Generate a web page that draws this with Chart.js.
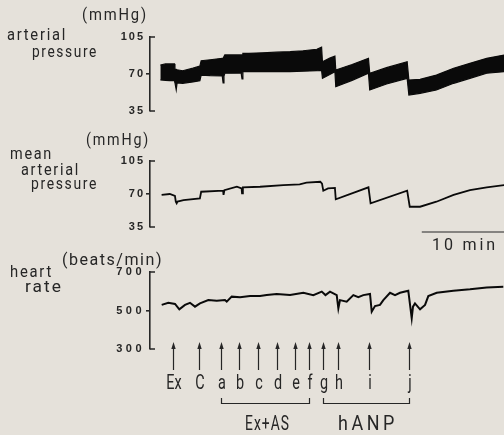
<!DOCTYPE html>
<html><head><meta charset="utf-8">
<script src="https://cdn.jsdelivr.net/npm/chart.js@4"></script>
<style>
html,body{margin:0;padding:0;background:#e5e1da;}
#wrap{position:relative;width:504px;height:435px;overflow:hidden;background:#e5e1da;}
canvas{position:absolute;left:0;top:0;}
</style></head><body>
<div id="wrap">
<canvas id="c1" width="504" height="435"></canvas>
<canvas id="c2" width="504" height="435"></canvas>
<canvas id="c3" width="504" height="435"></canvas>
</div>
<script>
// ---- data (time in minutes) ----
const apTime  = [1.2,1.8,2.3,2.85,2.9,3.05,3.15,3.8,5.0,5.8,5.95,7.0,8.4,8.5,8.6,8.7,9.5,10.6,10.7,10.8,11.5,13.1,14.7,16.3,17.8,19.4,19.95,20.05,20.9,21.5,21.6,23.5,25.4,25.55,27.5,29.9,30.1,31.4,33.3,35.3,37.2,39.15,41.2];
const apUpper = [78.5,79.5,79.5,79.5,74.4,74.4,74,73.1,75.5,77.6,82.6,83.5,84.8,84.8,84.8,88,88,88,88,89.6,89.6,90.1,90.6,91.1,92,93.4,95.3,81.6,85,87,73.8,79,84.8,70.7,76,81.6,64.3,65,69,75.4,80.1,84.8,88];
const apLower = [64.3,64,63.7,63.7,61.8,55,61.5,61.2,62.5,63.7,69,68.5,68.1,61.5,68,70.7,70.8,70.9,65.3,72.2,72.2,72.2,72.2,72.2,72.6,73.1,73.5,65.9,69.5,72.2,58,64,70.7,54.9,60.5,65.9,50.1,51.7,54.9,61.2,65.9,70.7,72.2];

const mapTime  = [1.35,2.3,2.9,3.0,3.1,3.2,3.9,5.8,5.95,8.5,8.55,8.65,10.1,10.65,10.7,10.8,12.8,15.5,17.4,18.2,19.8,20.0,20.15,20.7,21.5,21.6,25.4,25.65,29.9,30.2,31.4,33.3,35.3,37.2,39.15,41.2];
const mapValue = [69,70,67.9,61.8,60.1,62,63.6,65.4,72.4,73.5,69,74,77.7,76,70.7,77,77.7,79.5,80.3,82,83,81,73.5,76,76.5,64.4,77.1,60.1,73.5,56.5,56.5,61.8,69,74.2,77.1,79.5];

const hrTime  = [1.36,2.13,2.91,3.41,4.07,4.65,5.23,5.81,6.78,7.76,8.72,8.92,9.5,10.47,11.63,12.79,13.57,14.73,16.28,17.83,18.99,19.97,20.4,20.93,21.71,21.9,22.09,22.87,23.64,24.22,24.8,25.58,25.78,26.16,26.74,27.13,27.91,28.49,29.07,30.03,30.43,30.58,30.81,31.4,31.98,32.36,33.34,35.27,37.21,39.15,41.08];
const hrValue = [529,540,534,506,529,540,520,537,554,551,554,546,572,569,575,575,580,586,580,592,580,598,580,598,580,511,554,546,580,569,580,586,494,523,529,554,592,580,592,603,460,520,537,506,529,575,592,603,610,620,624];

const pressureTicks = [35, 70, 105];
const hrTicks = [300, 500, 700];

const eventLabels = ['Ex','C','a','b','c','d','e','f','g','h','i','j'];
const eventTimes  = [2.64,5.70,8.22,10.35,12.59,14.73,16.83,18.52,20.08,21.83,25.5,30.15];
const groupLabels = ['Ex+AS','hANP'];
const groupFrom   = ['a','g'];
const groupTo     = ['f','j'];

const timeMin = 0, timeMax = 41.16;
const scaleBarStart = 31.6, scaleBarMinutes = 10, scaleBarLabel = '10 min';

// ---- styling ----
const INK = '#0a0a0a';
const TXT = '#262626';
const FONT = "Roboto,'Liberation Sans',sans-serif";
const TICKFONT = "'Liberation Sans',Arial,sans-serif";

// text drawn horizontally condensed; o.w = target width in px
function txt(ctx, s, x, y, size, o) {
  o = o || {};
  ctx.save();
  ctx.font = (o.weight || 'normal') + ' ' + size + 'px ' + FONT;
  ctx.letterSpacing = (o.ls || 0) + 'px';
  ctx.fillStyle = o.color || TXT;
  ctx.textBaseline = 'alphabetic';
  const w = ctx.measureText(s).width;
  const sx = o.w ? o.w / w : (o.sx || 0.8);
  ctx.translate(x, y);
  ctx.scale(sx, 1);
  ctx.textAlign = o.align || 'left';
  ctx.fillText(s, 0, 0);
  ctx.restore();
}

function pts(xs, ys) { return xs.map((t, i) => ({x: t, y: ys[i]})); }

function makeChart(id, datasets, yMin, yMax, ticks, padTop, padBottom, tickSpacing, drawExtra) {
  return new Chart(document.getElementById(id), {
    type: 'line',
    data: { datasets: datasets },
    options: {
      responsive: false,
      animation: false,
      events: [],
      layout: { padding: { top: padTop, bottom: padBottom, left: 0, right: 0 } },
      plugins: { legend: { display: false }, tooltip: { enabled: false } },
      elements: { point: { radius: 0 }, line: { tension: 0 } },
      scales: {
        x: { type: 'linear', min: timeMin, max: timeMax, display: false },
        y: {
          type: 'linear', min: yMin, max: yMax,
          afterFit: s => { s.width = 150; },
          afterBuildTicks: s => { s.ticks = ticks.map(v => ({value: v})); },
          border: { display: true, color: TXT, width: 1.6 },
          grid: {
            drawOnChartArea: false, drawTicks: true, tickLength: 4,
            color: c => c.index === 1 ? TXT : 'rgba(0,0,0,0)',
            tickColor: c => c.index === 1 ? TXT : 'rgba(0,0,0,0)',
            lineWidth: 1.6
          },
          ticks: {
            color: TXT, padding: 1,
            font: { family: TICKFONT, size: 11, weight: 'bold' },
            callback: v => String(v)
          }
        }
      }
    },
    plugins: [{
      id: 'deco',
      beforeDraw(chart) { chart.ctx.letterSpacing = tickSpacing + 'px'; },
      afterDraw(chart) {
        const ctx = chart.ctx;
        ctx.letterSpacing = '0px';
        const ys = chart.scales.y;
        const ax = ys.right;
        ctx.save();
        ctx.strokeStyle = TXT; ctx.lineWidth = 1.6;
        ctx.beginPath();
        ctx.moveTo(ax, ys.getPixelForValue(yMax)); ctx.lineTo(ax + 5, ys.getPixelForValue(yMax));
        ctx.moveTo(ax, ys.getPixelForValue(yMin)); ctx.lineTo(ax + 5, ys.getPixelForValue(yMin));
        ctx.stroke();
        ctx.restore();
        drawExtra(chart, ctx);
      }
    }]
  });
}

// Panel 1: arterial pressure (band)
makeChart('c1', [
  { data: pts(apTime, apUpper), borderColor: INK, borderWidth: 1.2, backgroundColor: INK, fill: '+1' },
  { data: pts(apTime, apLower), borderColor: INK, borderWidth: 1.2, fill: false }
], 35, 105, pressureTicks, 37, 324, 2, (chart, ctx) => {
  txt(ctx, '(mmHg)', 82, 20, 16, {ls: 2, w: 66});
  txt(ctx, 'arterial', 7, 40, 17, {ls: 2, w: 60});
  txt(ctx, 'pressure', 32, 57, 17, {ls: 2, w: 66});
});

// Panel 2: mean arterial pressure
makeChart('c2', [
  { data: pts(mapTime, mapValue), borderColor: INK, borderWidth: 1.8, fill: false }
], 35, 105, pressureTicks, 161, 208, 2, (chart, ctx) => {
  txt(ctx, '(mmHg)', 86, 145, 16, {ls: 2, w: 64});
  txt(ctx, 'mean', 10, 159, 17, {ls: 2, w: 43});
  txt(ctx, 'arterial', 21, 175, 17, {ls: 2, w: 59});
  txt(ctx, 'pressure', 31, 189, 17, {ls: 2, w: 67});
  const xs = chart.scales.x;
  const x0 = xs.getPixelForValue(scaleBarStart), x1 = xs.getPixelForValue(scaleBarStart + scaleBarMinutes);
  ctx.save(); ctx.strokeStyle = TXT; ctx.lineWidth = 1.2;
  ctx.beginPath(); ctx.moveTo(x0, 232); ctx.lineTo(x1, 232); ctx.stroke(); ctx.restore();
  txt(ctx, scaleBarLabel, 432, 250, 17, {ls: 3, w: 66});
});

// Panel 3: heart rate + event markers
makeChart('c3', [
  { data: pts(hrTime, hrValue), borderColor: INK, borderWidth: 2, fill: false }
], 300, 700, hrTicks, 272, 86, 3.5, (chart, ctx) => {
  txt(ctx, '(beats/min)', 62, 265, 16, {ls: 1.5, w: 101});
  txt(ctx, 'heart', 10, 277, 17, {ls: 2, w: 43});
  txt(ctx, 'rate', 25, 292, 17, {ls: 2, w: 38});
  const xs = chart.scales.x;
  ctx.save();
  ctx.strokeStyle = TXT; ctx.fillStyle = TXT; ctx.lineWidth = 1.2;
  eventTimes.forEach((t, i) => {
    const x = Math.round(xs.getPixelForValue(t)) + 0.5;
    ctx.beginPath(); ctx.moveTo(x, 348); ctx.lineTo(x, 370); ctx.stroke();
    ctx.beginPath(); ctx.moveTo(x, 342); ctx.lineTo(x - 2.2, 349); ctx.lineTo(x + 2.2, 349); ctx.closePath(); ctx.fill();
    txt(ctx, eventLabels[i], x + 0.5, 389, 20, {align: 'center', sx: 0.72});
  });
  const centers = [267.5, 368];
  const widths = [45, 60];
  groupLabels.forEach((g, k) => {
    const xa = Math.round(xs.getPixelForValue(eventTimes[eventLabels.indexOf(groupFrom[k])])) + 0.5;
    const xb = Math.round(xs.getPixelForValue(eventTimes[eventLabels.indexOf(groupTo[k])])) + 0.5;
    ctx.beginPath(); ctx.moveTo(xa, 398); ctx.lineTo(xa, 403.5); ctx.lineTo(xb, 403.5); ctx.lineTo(xb, 398); ctx.stroke();
    txt(ctx, g, centers[k], 430, 20, {align: 'center', ls: k === 1 ? 4 : 1.5, w: widths[k]});
  });
  ctx.restore();
});
</script>
</body></html>
